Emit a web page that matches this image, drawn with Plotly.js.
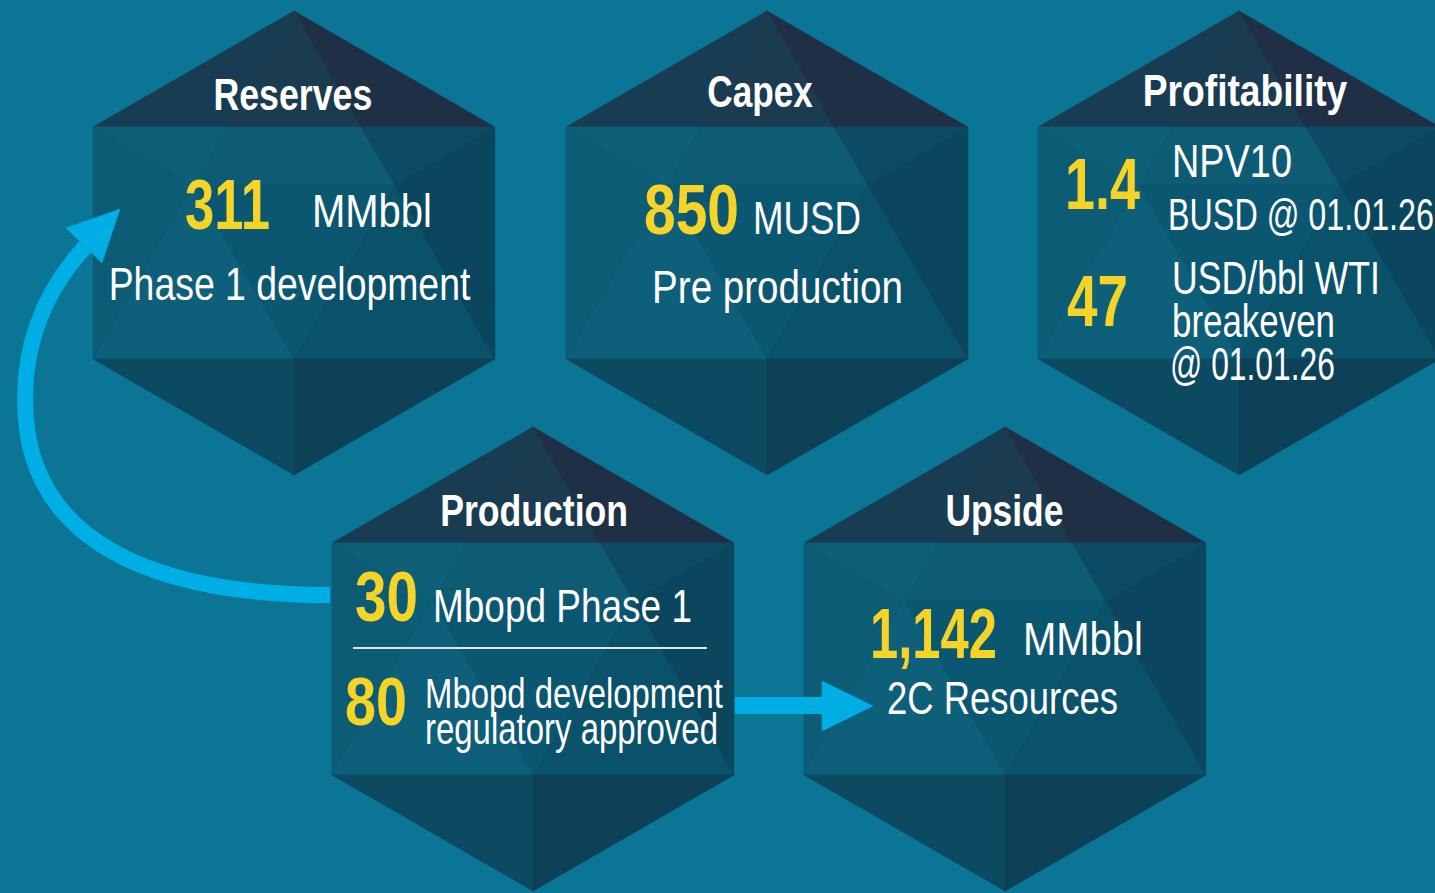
<!DOCTYPE html>
<html>
<head>
<meta charset="utf-8">
<script src="https://cdn.plot.ly/plotly-3.0.1.min.js"></script>
<style>
html,body{margin:0;padding:0;background:#0b7596;overflow:hidden;}
#chart{width:1435px;height:893px;}
</style>
</head>
<body>
<div id="chart"></div>
<script>
// ---- content (data) ----
const hexTitles = ['Reserves', 'Capex', 'Profitability', 'Production', 'Upside'];
const keyValues = ['311', '850', '1.4', '47', '30', '80', '1,142'];
const valueUnits = ['MMbbl', 'MUSD', 'NPV10', 'USD/bbl WTI', 'Mbopd Phase 1', 'Mbopd development', 'MMbbl'];
const valueNotes = ['Phase 1 development', 'Pre production', 'BUSD @ 01.01.26', 'breakeven', '', 'regulatory approved', '2C Resources'];
const extraNotes = ['@ 01.01.26'];

// ---- layout / style config (kept apart from the content) ----
const W = 1435, H = 893;
const BG = '#0b7596';
const YELLOW = '#f5d327';
const WHITE = '#ffffff';
const CYAN = '#00aee6';
const FONT = '"Liberation Sans", Arimo, Arial, sans-serif';

const hexCenters = [[294, 243], [767, 243], [1239, 243], [533, 659], [1005, 659]];
const hexR = 232;
// [x, y, targetWidth]
const titlePos = [[293, 94, 159], [760, 91, 106], [1245, 90, 205], [534, 510, 188], [1004, 510, 118]];
const valuePos = [[185, 205, 85], [644, 210, 95], [1065, 184, 75], [1067, 301, 61], [355, 597, 63], [345, 701, 62], [870, 634, 127]];
const unitPos = [[312, 211, 120], [753, 218, 108], [1172, 161, 120], [1172, 278, 208], [433, 606, 259], [425, 693, 298], [1023, 639, 120]];
const notePos = [[289, 284, 362, 'center'], [652, 287, 251, 'left'], [1168, 214, 266, 'left'], [1172, 321, 163, 'left'], null, [425, 728, 293, 'left'], [887, 698, 231, 'left']];
const extraPos = [[1170, 364, 165]];
const titleSize = 44;
const valueSizes = [70, 70, 72, 72, 70, 68, 70];
const unitSizes = [46, 46, 46, 46, 46, 43, 46];
const noteSizes = [46, 46, 45, 46, 46, 44, 46];

// facet geometry (unit hexagon, pointy top, y downward)
const s = Math.sqrt(3) / 2;
const P = {
  T: [0, -1], UR: [s, -0.5], LR: [s, 0.5], B: [0, 1], LL: [-s, 0.5], UL: [-s, -0.5],
  P1: [-s / 3, -0.5], P2: [s / 3, -0.5], Q1: [-s / 2, -0.25], Q2: [s / 2, -0.25], M: [0, 0.5]
};
const facetDefs = [
  [['T', 'UL', 'P1'], '#183d52'],
  [['T', 'P1', 'P2'], '#1b3b50'],
  [['T', 'P2', 'UR'], '#1f3046'],
  [['UL', 'P1', 'Q1'], '#0e5f78'],
  [['UL', 'Q1', 'LL'], '#0c5c76'],
  [['P1', 'P2', 'Q2', 'Q1'], '#0e5c74'],
  [['Q1', 'M', 'LL'], '#0e5f79'],
  [['Q1', 'Q2', 'M'], '#0b5771'],
  [['Q2', 'LR', 'M'], '#0a526a'],
  [['P2', 'UR', 'Q2'], '#0c4b63'],
  [['UR', 'LR', 'Q2'], '#0a465e'],
  [['LL', 'M', 'B'], '#0c4a61'],
  [['M', 'LR', 'B'], '#0c4158']
];

const shapes = [];
hexCenters.forEach(([cx, cy]) => {
  facetDefs.forEach(([pts, col]) => {
    const d = pts.map((k, i) => (i ? 'L' : 'M') + (cx + P[k][0] * hexR).toFixed(1) + ',' + (cy + P[k][1] * hexR).toFixed(1)).join(' ') + ' Z';
    shapes.push({type: 'path', xref: 'x', yref: 'y', path: d, fillcolor: col, line: {color: col, width: 0.6}, layer: 'below'});
  });
});

// curved arrow (production -> reserves)
shapes.push({type: 'path', xref: 'x', yref: 'y', layer: 'above',
  path: 'M 330,595 C 150,595 25,540 25,400 C 25,340 45,290 86,246',
  line: {color: CYAN, width: 16}});
shapes.push({type: 'path', xref: 'x', yref: 'y', layer: 'above',
  path: 'M 120,209 L 66,228 L 102,263 Z', fillcolor: CYAN, line: {color: CYAN, width: 0.5}});
// straight arrow (production -> upside)
shapes.push({type: 'rect', xref: 'x', yref: 'y', layer: 'above',
  x0: 735, x1: 824, y0: 697, y1: 714, fillcolor: CYAN, line: {width: 0}});
shapes.push({type: 'path', xref: 'x', yref: 'y', layer: 'above',
  path: 'M 822,681 L 873,706 L 822,731 Z', fillcolor: CYAN, line: {color: CYAN, width: 0.5}});
// separator in production hexagon
shapes.push({type: 'line', xref: 'x', yref: 'y', layer: 'above',
  x0: 353, x1: 707, y0: 648, y1: 648, line: {color: '#dde8ee', width: 2}});

const ann = [];
const annFit = [];
function addText(x, y, w, anchor, text, size, color) {
  ann.push({x: x, y: y, text: text, xanchor: anchor, yanchor: 'middle', showarrow: false,
    borderpad: 0, font: {family: FONT, size: size, color: color}});
  annFit.push({x: x, w: w, anchor: anchor});
}
hexTitles.forEach((t, i) => {
  addText(titlePos[i][0], titlePos[i][1], titlePos[i][2], 'center', '<b>' + t + '</b>', titleSize, WHITE);
});
keyValues.forEach((v, i) => {
  addText(valuePos[i][0], valuePos[i][1], valuePos[i][2], 'left', '<b>' + v + '</b>', valueSizes[i], YELLOW);
  addText(unitPos[i][0], unitPos[i][1], unitPos[i][2], 'left', valueUnits[i], unitSizes[i], WHITE);
  if (valueNotes[i] && notePos[i]) {
    addText(notePos[i][0], notePos[i][1], notePos[i][2], notePos[i][3], valueNotes[i], noteSizes[i], WHITE);
  }
});
extraNotes.forEach((t, i) => {
  addText(extraPos[i][0], extraPos[i][1], extraPos[i][2], 'left', t, 46, WHITE);
});

const layout = {
  width: W, height: H,
  margin: {l: 0, r: 0, t: 0, b: 0, pad: 0},
  paper_bgcolor: BG, plot_bgcolor: BG,
  xaxis: {range: [0, W], visible: false, fixedrange: true},
  yaxis: {range: [H, 0], visible: false, fixedrange: true},
  showlegend: false,
  shapes: shapes,
  annotations: ann
};

Plotly.newPlot('chart', [{x: [], y: [], type: 'scatter', mode: 'markers', hoverinfo: 'skip'}], layout,
  {staticPlot: true, displayModeBar: false}).then(gd => {
  // condense each text horizontally to the reference's condensed typeface width
  gd.querySelectorAll('g.annotation').forEach(g => {
    const i = +g.getAttribute('data-index');
    const fit = annFit[i];
    const t = g.querySelector('text');
    if (!fit || !t) return;
    const r = t.getBoundingClientRect();
    if (!r.width) return;
    const k = fit.w / r.width;
    const ax = fit.anchor === 'left' ? r.left : (r.left + r.right) / 2;
    const tx = fit.anchor === 'left' ? fit.x : ax;
    g.setAttribute('transform', 'translate(' + tx + ',0) scale(' + k + ',1) translate(' + (-ax) + ',0)');
  });
});
</script>
</body>
</html>
